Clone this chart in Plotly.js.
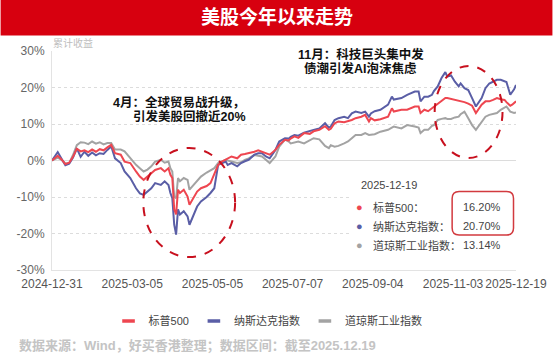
<!DOCTYPE html>
<html>
<head>
<meta charset="utf-8">
<script src="https://cdn.plot.ly/plotly-3.0.1.min.js"></script>
<style>
html,body{margin:0;padding:0;background:#fff;}
#chart{width:553px;height:354px;}
</style>
</head>
<body>
<div id="chart"></div>
<script>
// ---- data (trading-day index since 2024-12-31, cumulative return %) ----
const tradingDay = [0,3,5,7,9,11,13,15,17,19,21,23,25,27,29,31,33,36,38,41,44,46,48,50,52,54,57,59,61,62,63,64,65,66,67,69,71,72,74,76,78,81,83,85,87,89,91,92,94,97,99,101,103,106,108,110,112,114,117,119,122,124,125,127,129,132,135,137,140,143,145,146,148,150,153,155,157,159,162,164,166,167,169,172,176,178,179,183,186,190,192,193,195,197,199,200,202,204,206,207,209,211,213,214,216,218,220,222,225,227,229,231,233,235,237,238,240,241,242,243];
const sp500 = [0,1.3,0.3,-1.0,-0.6,1.0,3.2,2.5,2.8,2.3,3.0,2.4,3.1,2.8,3.6,4.3,2.0,1.6,-0.3,-0.7,-3.0,-4.4,-5.3,-4.5,-3.5,-2.6,-2.1,-3.0,-2.1,-3.9,-4.8,-13.4,-14.8,-8.0,-8.9,-8.0,-9.9,-12.1,-10.3,-8.5,-7.6,-7.0,-6.2,-3.9,-1.2,-0.3,0.2,0.6,1.1,0.6,1.6,1.8,2.0,2.4,2.8,2.4,2.0,1.6,2.9,4.3,5.7,5.5,6.0,6.6,6.2,7.5,7.3,8.0,8.4,9.4,8.4,8.7,10.2,10.7,10.5,10.7,11.1,11.6,12.0,12.5,10.7,11.6,11.0,11.3,12.0,14.3,13.4,13.9,13.9,14.8,14.8,13.0,13.9,13.5,14.3,14.5,15.3,16.2,17.1,17.1,16.9,16.7,16.4,16.2,16.0,15.6,15.0,13.0,15.3,16.2,16.2,16.6,17.1,16.8,16.6,16.0,15.0,15.3,15.8,16.20];
const nasdaq = [0,2.3,0.5,-1.3,-0.9,0.8,3.3,1.0,2.4,1.3,2.2,1.4,2.0,1.8,2.9,3.9,0.6,-0.7,-3.0,-4.8,-7.6,-9.0,-9.4,-8.6,-7.6,-6.2,-6.7,-5.7,-6.7,-8.9,-10.3,-17.6,-20.3,-13.4,-14.8,-13.9,-15.3,-17.6,-15.0,-12.6,-11.2,-10.0,-8.9,-7.6,-1.2,-0.7,-0.3,-1.2,-0.7,-1.6,-0.7,-0.2,0.2,1.6,2.0,2.0,1.1,0.6,2.9,5.2,6.1,6.0,6.5,7.0,6.8,7.6,8.2,8.4,8.8,10.2,9.0,9.3,11.1,11.6,12.0,11.6,12.9,13.4,13.0,13.4,12.0,12.9,13.5,13.9,15.3,17.5,16.7,17.1,18.0,18.9,18.9,16.2,17.5,17.5,18.0,19.0,20.3,22.6,24.2,23.0,23.3,21.6,20.3,21.1,19.8,19.3,17.1,14.8,17.1,19.8,21.1,21.6,22.1,22.1,21.8,21.5,18.0,18.8,19.5,20.70];
const dow = [0,0.8,0.2,-0.8,-0.7,1.5,4.2,5.0,4.9,4.5,5.2,4.6,5.0,4.4,4.8,4.8,3.0,3.0,2.5,0.6,-1.2,-2.1,-3.0,-2.5,-1.6,-0.3,0.2,-0.6,-0.3,-2.1,-3.0,-9.9,-10.3,-4.8,-5.7,-4.8,-5.3,-8.0,-6.7,-5.7,-4.4,-3.3,-2.6,-2.1,-0.7,-0.3,0.2,0.0,-0.3,-0.7,-0.5,0.2,0.6,1.5,1.3,1.1,0.2,-0.7,1.1,3.8,5.7,5.2,4.7,5.0,5.2,4.7,5.5,6.1,5.8,4.0,3.4,4.2,3.8,4.0,4.7,5.2,6.1,7.0,7.0,7.5,7.0,7.0,7.2,7.9,8.4,9.0,9.3,8.8,9.7,9.3,9.0,7.5,8.4,8.4,9.5,9.7,11.1,11.4,11.6,11.4,11.4,11.8,12.0,12.7,13.4,11.6,9.7,8.4,10.6,12.0,12.5,12.8,13.0,13.9,14.6,14.8,13.4,13.2,13.0,13.14];
const seriesNames = ['标普500','纳斯达克指数','道琼斯工业指数'];
const seriesColors = ['#EE4650','#5A5EA6','#A3A3A3'];
const tickDays = [0,42,84,126,168,210,243];
const tickLabels = ['2024-12-31','2025-03-05','2025-05-05','2025-07-07','2025-09-04','2025-11-03','2025-12-19'];
const yTicks = [-30,-20,-10,0,10,20,30];
const yTickLabels = ['-30%','-20%','-10%','0%','10%','20%','30%'];
const lastDate = '2025-12-19';

// ---- helpers: pixel -> paper ----
const L = 51.5, R = 516.5, T = 51, B = 270;
const px = x => (x - L) / (R - L);
const py = y => (B - y) / (B - T);
const FONT = '"Liberation Sans", "Noto Sans CJK SC", sans-serif';

const seriesData = [sp500, nasdaq, dow];
const traces = [];
[2,1,0].forEach(i => {
  traces.push({
    x: tradingDay, y: seriesData[i], type: 'scatter', mode: 'lines',
    line: {color: seriesColors[i], width: 2}, showlegend: false, hoverinfo: 'skip'
  });
});
[0,1,2].forEach(i => {
  traces.push({
    x: [null], y: [null], type: 'scatter', mode: 'markers', name: seriesNames[i],
    marker: {symbol: 'line-ew-open', size: 9, color: seriesColors[i], line: {color: seriesColors[i], width: 3.5}},
    showlegend: true
  });
});

function label(x, y, text, size, color, xanchor, bold) {
  return {xref:'paper', yref:'paper', x: px(x), y: py(y), text: bold ? '<b>' + text + '</b>' : text,
    showarrow:false, font:{family:FONT, size:size, color:color}, xanchor:xanchor, yanchor:'middle', borderpad:0};
}

const annotations = [
  label(276.5, 17, '美股今年以来走势', 19, '#fff', 'center', true),
  label(52, 43, '累计收益', 10, '#bdbdbd', 'left', false),
  label(246, 102, '4月：全球贸易战升级，', 12.5, '#111', 'right', true),
  label(247, 116, '引发美股回撤近20%', 12.5, '#111', 'right', true),
  label(361, 54.5, '11月：科技巨头集中发', 12.5, '#111', 'center', true),
  label(361, 68.5, '债潮引发AI泡沫焦虑', 12.5, '#111', 'center', true),
  label(360, 185, lastDate, 11, '#444', 'left', false),
  label(17, 345.5, '数据来源：Wind，好买香港整理；数据区间：截至2025.12.19', 13, '#c4c4c4', 'left', true)
];
const rowY = [207, 226, 245];
[0,1,2].forEach(i => {
  const s = seriesData[i];
  annotations.push(label(360, rowY[i], '●', 11, seriesColors[i], 'center', false));
  annotations.push(label(372, rowY[i], seriesNames[i] + '：', 11, '#444', 'left', false));
  annotations.push(label(502, rowY[i], s[s.length-1].toFixed(2) + '%', 11, '#444', 'right', false));
});

function roundRect(x0, y0, x1, y1, r) {
  const X = v => px(v), Y = v => py(v);
  return `M${X(x0+r)},${Y(y0)} L${X(x1-r)},${Y(y0)} Q${X(x1)},${Y(y0)} ${X(x1)},${Y(y0+r)} ` +
         `L${X(x1)},${Y(y1-r)} Q${X(x1)},${Y(y1)} ${X(x1-r)},${Y(y1)} L${X(x0+r)},${Y(y1)} ` +
         `Q${X(x0)},${Y(y1)} ${X(x0)},${Y(y1-r)} L${X(x0)},${Y(y0+r)} Q${X(x0)},${Y(y0)} ${X(x0+r)},${Y(y0)} Z`;
}

const shapes = [
  {type:'rect', xref:'paper', yref:'paper', x0: px(0), x1: px(553), y0: py(0), y1: py(35.5),
   fillcolor:'#D7000F', line:{width:0}, layer:'above'},
  {type:'rect', xref:'paper', yref:'paper', x0: px(350), x1: px(522), y0: py(172), y1: py(258),
   fillcolor:'#ffffff', line:{width:0}, layer:'above'},
  {type:'path', xref:'paper', yref:'paper', path: roundRect(452.5, 191.5, 514, 235, 7),
   line:{color:'#D23A3F', width:1.5}, layer:'above'},
  {type:'circle', xref:'paper', yref:'paper', x0: px(143), x1: px(235), y0: py(148), y1: py(257),
   line:{color:'#C8101E', width:2, dash:'dash'}, layer:'above'},
  {type:'circle', xref:'paper', yref:'paper', x0: px(435), x1: px(503), y0: py(66), y1: py(158),
   line:{color:'#C8101E', width:2, dash:'dash'}, layer:'above'}
];

const layout = {
  width: 553, height: 354,
  margin: {l: L, r: 553 - R, t: T, b: 354 - B},
  paper_bgcolor: '#fff', plot_bgcolor: '#fff',
  font: {family: FONT, size: 12, color: '#555'},
  xaxis: {
    range: [0, 243], tickvals: tickDays, ticktext: tickLabels, ticks: '', tickangle: 0,
    ticklabelstandoff: 3,
    showgrid: false, zeroline: false, showline: true, linecolor: '#e3e3e3', linewidth: 1,
    tickfont: {family: FONT, size: 12, color: '#555'}, fixedrange: true
  },
  yaxis: {
    range: [-30, 30], tickvals: yTicks, ticktext: yTickLabels, ticks: '',
    ticklabelstandoff: 4,
    showgrid: true, gridcolor: '#dcdcdc', griddash: 'dot', gridwidth: 1,
    zeroline: true, zerolinecolor: '#dcdcdc', zerolinewidth: 1,
    showline: true, linecolor: '#e3e3e3', linewidth: 1,
    tickfont: {family: FONT, size: 12, color: '#666'}, fixedrange: true
  },
  showlegend: true,
  legend: {orientation: 'h', x: px(268), xanchor: 'center', y: py(321), yanchor: 'middle',
           font: {family: FONT, size: 11, color: '#444'}, itemwidth: 30, bgcolor: 'rgba(0,0,0,0)'},
  annotations: annotations,
  shapes: shapes
};

Plotly.newPlot('chart', traces, layout, {displayModeBar: false, staticPlot: true});
</script>
</body>
</html>
